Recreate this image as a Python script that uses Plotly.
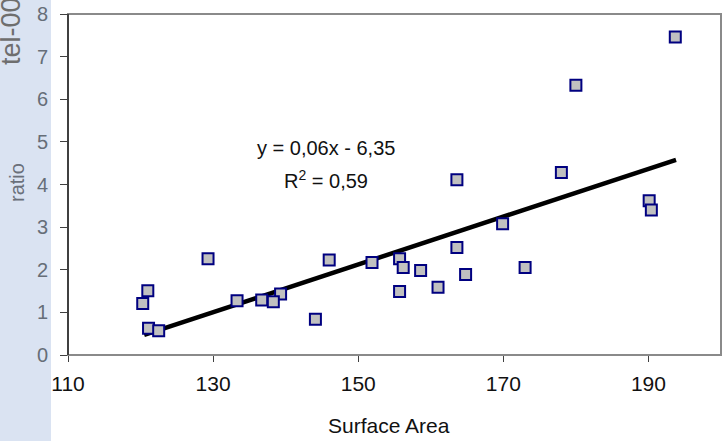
import plotly.graph_objects as go

# Data
surface_area = [121.0, 120.3, 121.1, 122.5, 129.3, 133.3, 136.7, 139.3, 138.3, 144.1,
                146.0, 151.9, 155.7, 156.2, 155.7, 158.6, 161.0, 163.6, 163.6, 164.8,
                169.9, 173.0, 178.0, 180.0, 190.1, 190.4, 193.7]
ratio = [1.51, 1.21, 0.63, 0.57, 2.26, 1.27, 1.29, 1.43, 1.25, 0.84,
         2.23, 2.17, 2.26, 2.05, 1.49, 1.98, 1.59, 4.11, 2.52, 1.89,
         3.08, 2.05, 4.28, 6.33, 3.62, 3.40, 7.46]
trend_x = [120.5, 193.8]
trend_y = [0.47, 4.58]
x_ticks = [110, 130, 150, 170, 190]
y_ticks = [0, 1, 2, 3, 4, 5, 6, 7, 8]
eq_text = "y = 0,06x - 6,35"
r2_text = "R<sup>2</sup> = 0,59"

W, H = 723, 441
ML, MR, MT, MB = 68, 2, 14, 86
PW, PH = W - ML - MR, H - MT - MB

def px_x(p):
    return (p - ML) / PW

def px_y(p):
    return (H - MB - p) / PH

FONT = "Liberation Sans, Arial, sans-serif"

fig = go.Figure()
fig.add_trace(go.Scatter(
    x=trend_x, y=trend_y, mode="lines",
    line=dict(color="black", width=4.5), hoverinfo="skip", showlegend=False))
fig.add_trace(go.Scatter(
    x=surface_area, y=ratio, mode="markers",
    marker=dict(symbol="square", size=11, color="#c0c0c0",
                line=dict(color="#000080", width=2)),
    showlegend=False))

shapes = [
    # light blue strip on the left
    dict(type="rect", xref="paper", yref="paper", x0=px_x(-5), x1=px_x(51),
         y0=px_y(H + 5), y1=px_y(-5), fillcolor="#dae3f2", line=dict(width=0),
         layer="below"),
    # plot frame
    dict(type="rect", xref="paper", yref="paper", x0=0, x1=1, y0=0, y1=1,
         line=dict(color="#8a8a8a", width=2), layer="above"),
    # left axis line (dark)
    dict(type="line", xref="paper", yref="paper", x0=0, x1=0, y0=0, y1=1,
         line=dict(color="#404040", width=2), layer="above"),
]

annotations = [
    dict(x=145.5, y=4.86, xref="x", yref="y", text=eq_text, showarrow=False,
         font=dict(family=FONT, size=20, color="#111111"), xanchor="center", yanchor="middle"),
    dict(x=145.6, y=4.11, xref="x", yref="y", text=r2_text, showarrow=False,
         font=dict(family=FONT, size=20, color="#111111"), xanchor="center", yanchor="middle"),
    dict(x=px_x(17), y=px_y(183), xref="paper", yref="paper", text="ratio",
         textangle=-90, showarrow=False, xanchor="center", yanchor="middle",
         font=dict(family=FONT, size=20, color="#6a707a")),
    dict(x=px_x(11), y=px_y(67), xref="paper", yref="paper", text="tel-00",
         textangle=-90, showarrow=False, xanchor="center", yanchor="bottom",
         font=dict(family=FONT, size=27, color="#6e6e6e")),
    dict(x=px_x(389), y=px_y(425), xref="paper", yref="paper", text="Surface Area",
         showarrow=False, xanchor="center", yanchor="middle",
         font=dict(family=FONT, size=21, color="#111111")),
]

fig.update_layout(
    width=W, height=H,
    margin=dict(l=ML, r=MR, t=MT, b=MB, autoexpand=False),
    paper_bgcolor="white", plot_bgcolor="white",
    shapes=shapes, annotations=annotations,
    xaxis=dict(range=[110, 200], tickvals=x_ticks, ticks="outside", ticklen=6,
               tickcolor="#404040", tickwidth=1, showgrid=False, zeroline=False,
               showline=False, tickfont=dict(family=FONT, size=21, color="#111111"),
               ticklabelstandoff=4, automargin=False),
    yaxis=dict(range=[0, 8], tickvals=y_ticks, ticks="outside", ticklen=7,
               tickcolor="#404040", tickwidth=1, showgrid=False, zeroline=False,
               showline=False, tickfont=dict(family=FONT, size=20, color="#666e78"),
               ticklabelstandoff=8, automargin=False),
)

fig.write_html("out.html", config={"displayModeBar": False},
               post_script="document.body.style.margin='0';document.body.style.overflow='hidden';")
